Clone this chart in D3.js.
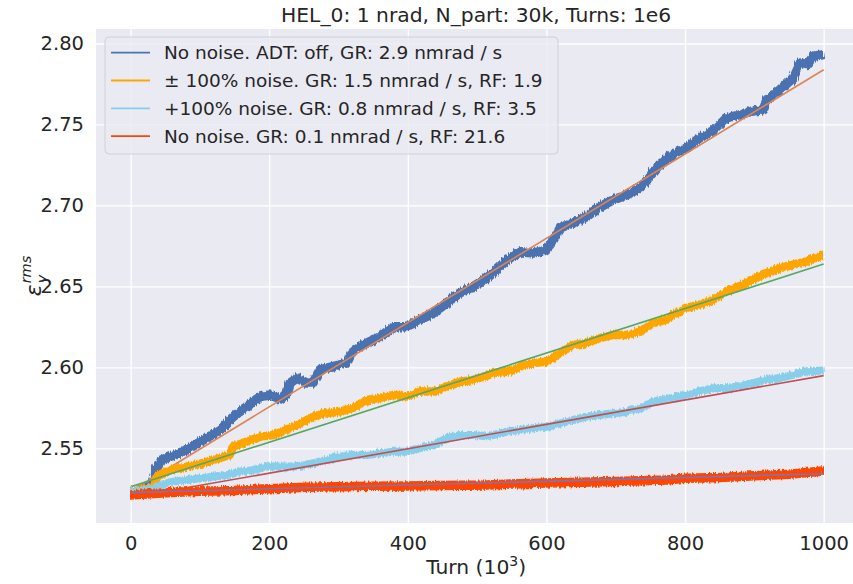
<!DOCTYPE html>
<html>
<head>
<meta charset="utf-8">
<script src="https://cdn.jsdelivr.net/npm/d3@7"></script>
<style>
  html, body { margin: 0; padding: 0; background: #ffffff; }
  svg { display: block; font-family: "DejaVu Sans", sans-serif; }
</style>
</head>
<body>
<svg id="chart" width="853" height="584"></svg>
<script>
// ---- data (turns in units of 10^3, emittance values) ----
const titleText = "HEL_0: 1 nrad, N_part: 30k, Turns: 1e6";
const xTicks = [0, 200, 400, 600, 800, 1000];
const yTicks = [2.55, 2.60, 2.65, 2.70, 2.75, 2.80];

const legendLabels = [
  "No noise. ADT: off, GR: 2.9 nmrad / s",
  "\u00b1 100% noise. GR: 1.5 nmrad / s, RF: 1.9",
  "+100% noise. GR: 0.8 nmrad / s, RF: 3.5",
  "No noise. GR: 0.1 nmrad / s, RF: 21.6"
];
const seriesColors = ["#4c72b0", "#ffa500", "#87ceeb", "#ff4500"];
const fitColors = ["#dd8452", "#55a868", "#c44e52", "#8172b3"];

// no noise, ADT off
const turnsA = [0, 10, 20, 30, 34, 38, 45, 57, 81, 105, 129, 148, 167, 187, 201, 216, 225, 230, 240, 254, 263, 273, 292, 312, 321, 341, 360, 379, 398, 417, 437, 456, 475, 494, 514, 523, 543, 562, 581, 600, 610, 620, 639, 658, 677, 696, 716, 735, 745, 764, 783, 802, 821, 841, 860, 879, 898, 913, 918, 937, 956, 966, 976, 985, 1000];
const valuesA = [2.5235, 2.524, 2.5255, 2.527, 2.531, 2.538, 2.543, 2.5448, 2.549, 2.5551, 2.5613, 2.5695, 2.5757, 2.5819, 2.5829, 2.5805, 2.583, 2.5903, 2.5934, 2.5903, 2.5903, 2.5984, 2.6004, 2.6027, 2.6107, 2.615, 2.6189, 2.6251, 2.6251, 2.6292, 2.6335, 2.6397, 2.6459, 2.6498, 2.6552, 2.6583, 2.6663, 2.6714, 2.6706, 2.6725, 2.6787, 2.6861, 2.6892, 2.6931, 2.6992, 2.7034, 2.7065, 2.7108, 2.7157, 2.7257, 2.7313, 2.7355, 2.7417, 2.746, 2.754, 2.756, 2.7583, 2.759, 2.7653, 2.7715, 2.7787, 2.788, 2.787, 2.7921, 2.7931];

// +/- 100% noise
const turnsB = [0, 20, 33, 38, 57, 81, 105, 129, 143, 148, 167, 187, 206, 225, 244, 263, 283, 302, 321, 341, 360, 379, 398, 417, 437, 456, 475, 494, 514, 523, 543, 562, 581, 600, 620, 639, 658, 677, 696, 716, 735, 754, 773, 783, 802, 821, 841, 860, 879, 898, 918, 937, 956, 976, 995, 1000];
const valuesB = [2.524, 2.5245, 2.5255, 2.5325, 2.5366, 2.5387, 2.5409, 2.544, 2.5459, 2.551, 2.5541, 2.5572, 2.5582, 2.5613, 2.565, 2.5695, 2.5718, 2.5726, 2.5749, 2.5798, 2.5811, 2.5829, 2.5819, 2.585, 2.585, 2.5881, 2.5911, 2.5922, 2.5948, 2.5965, 2.5973, 2.6004, 2.6027, 2.6035, 2.6089, 2.6138, 2.615, 2.6181, 2.62, 2.62, 2.622, 2.6274, 2.6295, 2.6325, 2.6367, 2.6387, 2.6418, 2.647, 2.6501, 2.6542, 2.6583, 2.6614, 2.6634, 2.6655, 2.6686, 2.669];

// +100% noise
const turnsC = [0, 20, 30, 42, 61, 81, 100, 119, 139, 158, 177, 196, 216, 235, 254, 263, 283, 302, 321, 341, 360, 379, 398, 417, 437, 456, 475, 494, 514, 523, 543, 562, 581, 600, 620, 639, 658, 677, 696, 716, 735, 754, 773, 783, 802, 821, 841, 860, 879, 898, 918, 937, 956, 976, 995, 1000];
const valuesC = [2.5235, 2.524, 2.5243, 2.5273, 2.5294, 2.5304, 2.5315, 2.5325, 2.5335, 2.5356, 2.5366, 2.5387, 2.5387, 2.5387, 2.5397, 2.5407, 2.5428, 2.5448, 2.5459, 2.5459, 2.5469, 2.5479, 2.5479, 2.55, 2.552, 2.5562, 2.5582, 2.5582, 2.5575, 2.5582, 2.5603, 2.5613, 2.5624, 2.5633, 2.5654, 2.5675, 2.5695, 2.5706, 2.5716, 2.5726, 2.5747, 2.5788, 2.5805, 2.5811, 2.5831, 2.5852, 2.5872, 2.5872, 2.5883, 2.5903, 2.5924, 2.5934, 2.5955, 2.5976, 2.5979, 2.598];

// no noise, feedback on
const turnsD = [0, 50, 100, 150, 200, 254, 300, 350, 400, 450, 514, 550, 600, 650, 700, 773, 800, 850, 900, 950, 995, 1000];
const valuesD = [2.5212, 2.5225, 2.5235, 2.524, 2.525, 2.526, 2.5262, 2.5265, 2.5267, 2.527, 2.5273, 2.528, 2.5285, 2.529, 2.5295, 2.5304, 2.5315, 2.532, 2.533, 2.534, 2.5358, 2.536];

// linear fits: value at turn 0 and at turn 1000
const fitTurns = [0, 1000];
const fitA = [2.5235, 2.7838];
const fitB = [2.5263, 2.6638];
const fitC = [2.5196, 2.5949];
const fitD = [2.5226, 2.5343];

// ---- layout ----
const svg = d3.select("#chart");
const W = 853, H = 584;
const plot = { left: 96, right: 858.3, top: 29, bottom: 523 };
const textColor = "#262626";

const x = d3.scaleLinear().domain([-50, 1050]).range([plot.left, plot.right]);
const y = d3.scaleLinear().domain([2.50386, 2.80896]).range([plot.bottom, plot.top]);

svg.append("rect").attr("width", W).attr("height", H).attr("fill", "#ffffff");

const defs = svg.append("defs");
defs.append("clipPath").attr("id", "plotclip")
  .append("rect")
  .attr("x", plot.left).attr("y", plot.top)
  .attr("width", plot.right - plot.left).attr("height", plot.bottom - plot.top);

// turn-by-turn jitter texture for the measured traces
const rough = defs.append("filter").attr("id", "jitter")
  .attr("filterUnits", "userSpaceOnUse")
  .attr("x", 0).attr("y", 0).attr("width", W).attr("height", H);
rough.append("feTurbulence")
  .attr("type", "fractalNoise").attr("baseFrequency", "0.7 0.05")
  .attr("numOctaves", 2).attr("seed", 3).attr("result", "noise");
rough.append("feDisplacementMap")
  .attr("in", "SourceGraphic").attr("in2", "noise")
  .attr("scale", 5).attr("xChannelSelector", "R").attr("yChannelSelector", "G");

svg.append("rect")
  .attr("x", plot.left).attr("y", plot.top)
  .attr("width", plot.right - plot.left).attr("height", plot.bottom - plot.top)
  .attr("fill", "#eaeaf2");

// grid lines via axes with full-length ticks
const gx = svg.append("g")
  .attr("transform", `translate(0,${plot.bottom})`)
  .call(d3.axisBottom(x).tickValues(xTicks).tickSize(-(plot.bottom - plot.top)).tickFormat(d3.format("d")).tickPadding(13));
gx.select(".domain").remove();
gx.selectAll(".tick line").attr("stroke", "#ffffff").attr("stroke-width", 1.3);
gx.selectAll(".tick text")
  .attr("fill", textColor).attr("font-size", "19.5px")
  .attr("font-family", "DejaVu Sans");

const gy = svg.append("g")
  .attr("transform", `translate(${plot.left},0)`)
  .call(d3.axisLeft(y).tickValues(yTicks).tickSize(-(plot.right - plot.left)).tickFormat(d3.format(".2f")).tickPadding(12));
gy.select(".domain").remove();
gy.selectAll(".tick line").attr("stroke", "#ffffff").attr("stroke-width", 1.3);
gy.selectAll(".tick text")
  .attr("fill", textColor).attr("font-size", "19.5px")
  .attr("font-family", "DejaVu Sans");

// ---- series ----
const line = d3.line().x(d => x(d[0])).y(d => y(d[1]));
const plotG = svg.append("g").attr("clip-path", "url(#plotclip)");

const series = [
  { t: turnsA, v: valuesA, fit: fitA, w: 9.5 },
  { t: turnsB, v: valuesB, fit: fitB, w: 8.5 },
  { t: turnsC, v: valuesC, fit: fitC, w: 8.0 },
  { t: turnsD, v: valuesD, fit: fitD, w: 9.5 }
];

series.forEach((s, i) => {
  plotG.append("path")
    .datum(d3.zip(s.t, s.v))
    .attr("d", line)
    .attr("fill", "none")
    .attr("stroke", seriesColors[i])
    .attr("stroke-width", s.w)
    .attr("stroke-linejoin", "round")
    .attr("stroke-linecap", "butt")
    .attr("filter", "url(#jitter)");
  plotG.append("path")
    .datum(d3.zip(fitTurns, s.fit))
    .attr("d", line)
    .attr("fill", "none")
    .attr("stroke", fitColors[i])
    .attr("stroke-width", 1.6);
});

// ---- legend ----
const lg = svg.append("g");
lg.append("rect")
  .attr("x", 105).attr("y", 37).attr("width", 453).attr("height", 117)
  .attr("rx", 4).attr("ry", 4)
  .attr("fill", "#eaeaf2").attr("fill-opacity", 0.8)
  .attr("stroke", "#d0d0d6").attr("stroke-width", 1);
legendLabels.forEach((lab, i) => {
  const cy = 52.7 + i * 27.8;
  lg.append("line")
    .attr("x1", 111).attr("x2", 150).attr("y1", cy).attr("y2", cy)
    .attr("stroke", seriesColors[i]).attr("stroke-width", 1.8);
  lg.append("text")
    .attr("x", 164).attr("y", cy).attr("dy", "0.36em")
    .attr("fill", textColor).attr("font-size", "18.5px")
    .text(lab);
});

// ---- title and axis labels ----
svg.append("text")
  .attr("x", (plot.left + plot.right) / 2 - 1).attr("y", 22)
  .attr("text-anchor", "middle").attr("fill", textColor)
  .attr("font-size", "20.3px")
  .text(titleText);

const xl = svg.append("text")
  .attr("x", (plot.left + plot.right) / 2 - 1).attr("y", 574)
  .attr("text-anchor", "middle").attr("fill", textColor)
  .attr("font-size", "20.3px");
xl.append("tspan").text("Turn (10");
xl.append("tspan").attr("font-size", "14px").attr("dy", -8).text("3");
xl.append("tspan").attr("dy", 8).text(")");

// y label: epsilon with stacked subscript y and superscript rms
const yl = svg.append("g").attr("transform", "translate(41,276) rotate(-90)");
const eps = yl.append("text")
  .attr("font-style", "italic").attr("font-size", "22px")
  .attr("fill", textColor).text("\u03b5");
const ew = eps.node().getComputedTextLength();
const sub = yl.append("text")
  .attr("font-style", "italic").attr("font-size", "14.5px")
  .attr("fill", textColor).attr("x", ew + 1).attr("y", 5.5).text("y");
const sup = yl.append("text")
  .attr("font-style", "italic").attr("font-size", "14.5px")
  .attr("fill", textColor).attr("x", ew + 1).attr("y", -10).text("rms");
const totalW = ew + 1 + Math.max(sub.node().getComputedTextLength(), sup.node().getComputedTextLength());
[eps, sub, sup].forEach(t => t.attr("transform", `translate(${-totalW / 2},0)`));
</script>
</body>
</html>
